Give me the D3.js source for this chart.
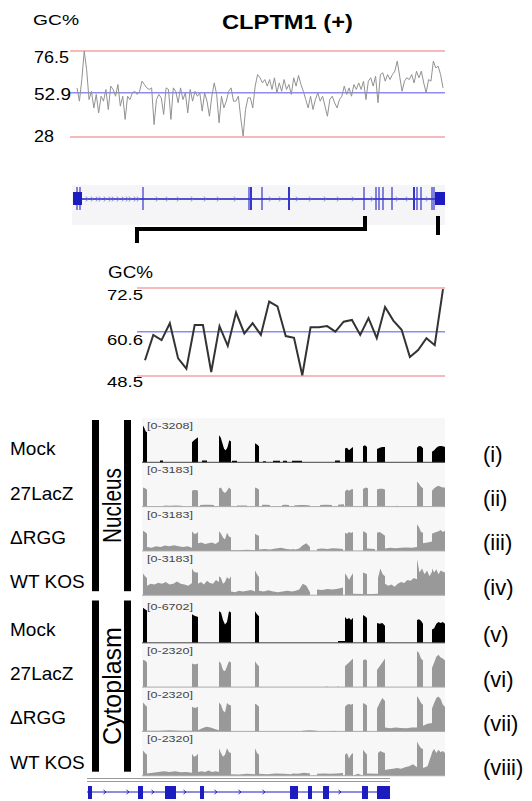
<!DOCTYPE html>
<html lang="en">
<head>
<meta charset="utf-8">
<title>CLPTM1 (+)</title>
<script src="https://cdn.jsdelivr.net/npm/d3@7"></script>
<style>
  body { margin: 0; background: #fff; }
  text { font-family: "Liberation Sans", Arial, Helvetica, sans-serif; fill: #000; }
</style>
</head>
<body>
<script>
// ---- GC content, whole gene ----
var gcTop = [55.7,48.2,60.4,76.4,66,49.1,53.8,44.4,52,41.6,51,48.2,54.8,43.5,56.7,54.8,51,57.6,45.4,51,
  37.9,51,49.1,52.9,53.8,52,53.8,59.5,57.6,55.7,54.8,55.7,35,49.1,52,50.1,40.7,55.7,54.8,37.9,
  55.7,53.8,47.3,55.7,49.1,52.9,41.6,54.8,48.2,53.8,51,52.9,42.6,52.9,48.2,39.7,51,58.5,52,36,
  51,44.4,48.2,53.8,55.7,48.2,48.2,51,38.8,28.5,43.5,50.1,50.1,44.4,56.7,63.2,61.4,58.5,60.4,
  56.7,60.4,54.8,61.4,52.9,58.5,53.8,60.4,54.8,57.6,52,61.4,56.7,62.7,57.6,53.8,49.1,44.4,51,
  43.5,49.1,52.9,48.2,51,45.4,39.7,49.1,51,47.3,44.4,49.1,51,56.7,52,55.7,51,57.6,54.8,58.5,
  54.8,59.5,49.1,59.5,61.4,56.7,62.3,47.3,63.2,64.2,59.5,63.2,60.4,63.2,65.1,70.8,62.3,53.8,
  59.5,61.4,60.4,63.2,58.5,65.1,61.4,65.1,58.5,52.9,60.4,59.5,70.8,67,67.9,63.2,55.7];
var gcTopTicks = [76.5, 52.9, 28];

// ---- GC content, zoomed region ----
var gcZoom = [52.8,59.7,58.3,62.9,53.3,50.5,62.4,62.4,49.6,62.1,56.7,65.8,60.1,62.9,59.7,68.8,67.5,
  59.4,58.9,48.7,61.8,61.8,62.1,60.6,63.3,63.8,59.7,64.3,58.8,67.3,63.6,61.1,53.7,55.6,58.8,56.9,72.2];
var gcZoomTicks = [72.5, 60.6, 48.5];

// ---- gene model, top (positions in px units along the gene) ----
var topExonLines = [4,7,70,176,178,189,216,291,303,306,310,319,341,344,348,359,361];
var topBlocks = [[0,9],[362,372]];
var topArrows = [14,19,24,27,32,37,40,45,50,54,57,62,65,84,94,105,119,132,145,162,197,207,224,237,252,265,280,299,324,334,354];

// ---- coverage tracks (segments: start, end, heights as fraction of range) ----
var exons = [[1,5],[51,56],[78,89],[113,117],[203,211],[221,225],[236,242],[275,281],[290,303]];
var geneArrows = [18,41,66,98,129,153,177,253];

var sampleNames = ["Mock","27LacZ","\u0394RGG","WT KOS"];
var nucRanges = ["[0-3208]","[0-3183]","[0-3183]","[0-3183]"];
var cytRanges = ["[0-6702]","[0-2320]","[0-2320]","[0-2320]"];
var nucRoman = ["(i)","(ii)","(iii)","(iv)"];
var cytRoman = ["(v)","(vi)","(vii)","(viii)"];

var nucMock = [[1,5,[0.97,0.9,0.82,0.79]],[18,21,[0.05,0.05]],[50,56,[0.53,0.58,0.62,0.66]],[60,65,[0.05,0.05]],
  [77,89,[0.71,0.65,0.5,0.35,0.32,0.4,0.58,0.55]],[90,95,[0.04,0.04]],[113,117,[0.5,0.47,0.42]],[121,124,[0.03,0.03]],
  [131,138,[0.04,0.04,0.04]],[141,145,[0.04,0.04]],[150,160,[0.04,0.04]],[193,198,[0.05,0.05]],
  [203,211,[0.36,0.38,0.32,0.36,0.4]],[221,225,[0.42,0.45,0.4]],[235,243,[0.35,0.38,0.4,0.4]],
  [275,281,[0.38,0.43,0.42,0.37]],[290,303,[0.28,0.32,0.38,0.42,0.43,0.42,0.4]]];
var nuc27LacZ = [[1,5,[0.5,0.48,0.45]],[22,40,[0.03,0.02,0.03,0.02]],[50,56,[0.42,0.44,0.44,0.42]],[58,72,[0.04,0.05,0.05,0.04]],
  [77,89,[0.48,0.5,0.4,0.36,0.42,0.5,0.45]],[95,105,[0.03,0.03]],[113,117,[0.5,0.48,0.45]],[120,128,[0.05,0.05,0.04]],
  [140,147,[0.04,0.05,0.04]],[152,168,[0.03,0.04,0.04,0.03]],[178,190,[0.04,0.05,0.04]],[196,202,[0.05,0.06]],
  [203,211,[0.4,0.45,0.42,0.45,0.46]],[221,226,[0.46,0.5,0.48]],[235,243,[0.45,0.47,0.47,0.45]],[254,256,[0.03]],
  [275,281,[0.66,0.6,0.52,0.48]],[290,303,[0.42,0.48,0.52,0.55,0.52,0.5,0.5]]];
var nucDRGG = [[1,5,[0.53,0.5,0.45]],[5,50,[0.1,0.08,0.12,0.1,0.14,0.12,0.15,0.12,0.1,0.12,0.08]],[50,56,[0.52,0.45,0.45,0.5]],
  [56,77,[0.2,0.22,0.18,0.2,0.22,0.18,0.25]],[77,89,[0.52,0.45,0.35,0.3,0.48,0.38,0.35]],[89,113,[0.02,0.02,0.03,0.02]],
  [113,117,[0.45,0.42,0.4]],[117,150,[0.04,0.05,0.04,0.06,0.08,0.05,0.04]],[150,168,[0.05,0.04,0.06,0.15,0.2,0.1]],
  [175,201,[0.05,0.06,0.05,0.07,0.06,0.05]],[203,211,[0.48,0.45,0.5,0.47,0.5]],[221,225,[0.52,0.5,0.45]],[225,233,[0.06,0.05]],
  [235,243,[0.48,0.5,0.45,0.4]],[243,275,[0.06,0.08,0.07,0.08,0.09,0.08,0.1]],[275,281,[0.7,0.62,0.5,0.48]],
  [281,290,[0.2,0.22,0.25]],[290,303,[0.45,0.48,0.5,0.52,0.55,0.5,0.53]]];
var nucWTKOS = [[1,5,[0.57,0.5,0.45]],[5,50,[0.25,0.3,0.28,0.33,0.3,0.35,0.28,0.3,0.36,0.3,0.28,0.25,0.32]],[50,56,[0.7,0.62,0.6,0.6]],
  [56,77,[0.3,0.35,0.28,0.38,0.32,0.3,0.4,0.35]],[77,89,[0.5,0.45,0.3,0.35,0.48,0.42,0.5]],[89,113,[0.1,0.08,0.12,0.1,0.12,0.14,0.1]],
  [113,117,[0.65,0.55,0.48]],[117,150,[0.12,0.1,0.13,0.1,0.08,0.1,0.12,0.1]],[150,168,[0.1,0.12,0.15,0.3,0.25,0.08]],
  [175,201,[0.15,0.14,0.16,0.15,0.17,0.2]],[203,211,[0.58,0.5,0.4,0.5,0.58]],[211,221,[0.04,0.03]],[221,225,[0.6,0.58,0.55]],
  [225,236,[0.03,0.03,0.04]],[236,243,[0.45,0.7,0.55,0.5]],[243,275,[0.3,0.25,0.28,0.22,0.3,0.35,0.32,0.4,0.38,0.45,0.42]],
  [275,290,[0.95,0.6,0.7,0.55,0.65,0.5,0.62]],[290,303,[0.7,0.6,0.68,0.55,0.65,0.62,0.6]]];

var cytMock = [[1,5,[0.92,0.88,0.85]],[50,56,[0.75,0.72,0.7,0.68]],[77,89,[0.83,0.8,0.6,0.48,0.55,0.83,0.8]],
  [113,117,[0.83,0.75,0.7]],[196,203,[0.05,0.05]],[203,211,[0.68,0.62,0.65,0.6,0.66]],[221,225,[0.73,0.7,0.65]],
  [235,243,[0.52,0.5,0.52,0.45]],[275,281,[0.6,0.62,0.58,0.5]],[290,303,[0.35,0.38,0.5,0.55,0.52,0.55,0.5]]];
var cyt27LacZ = [[1,5,[0.72,0.7,0.65]],[50,56,[0.62,0.6,0.6,0.62]],[77,89,[0.68,0.62,0.45,0.42,0.55,0.68,0.65]],
  [113,117,[0.68,0.6,0.55]],[184,186,[0.02]],[195,197,[0.02]],[203,211,[0.55,0.6,0.65,0.7,0.75]],[221,225,[0.7,0.73,0.7]],
  [235,243,[0.45,0.55,0.65,0.75]],[275,281,[0.95,0.9,0.75,0.7]],[290,303,[0.5,0.65,0.8,0.85,0.78,0.75,0.7]]];
var cytDRGG = [[1,5,[0.76,0.7,0.65]],[5,50,[0.02,0.02,0.03,0.02,0.02]],[50,56,[0.65,0.62,0.62,0.65]],
  [56,77,[0.03,0.08,0.12,0.1,0.06,0.03]],[77,89,[0.76,0.7,0.55,0.5,0.75,0.7,0.68]],[113,117,[0.73,0.7,0.65]],
  [160,175,[0.02,0.03,0.02]],[190,195,[0.02]],[203,211,[0.65,0.7,0.72,0.7,0.73]],[221,225,[0.75,0.72,0.68]],
  [235,243,[0.6,0.75,0.88,0.8]],[243,275,[0.1,0.08,0.1,0.09,0.08,0.1,0.1]],[275,281,[0.93,0.85,0.75,0.7]],
  [281,290,[0.15,0.2,0.22]],[290,303,[0.6,0.75,0.88,0.92,0.85,0.7,0.65]]];
var cytWTKOS = [[1,5,[0.66,0.6,0.55]],[5,50,[0.06,0.08,0.1,0.12,0.1,0.12,0.09,0.1,0.08]],[50,56,[0.58,0.5,0.52,0.58]],
  [56,77,[0.1,0.12,0.1,0.14,0.1,0.12,0.1]],[77,89,[0.72,0.6,0.5,0.55,0.72,0.62,0.6]],[89,113,[0.04,0.03,0.05,0.04]],
  [113,117,[0.72,0.6,0.55]],[117,150,[0.05,0.04,0.06,0.05,0.04]],[150,168,[0.06,0.05,0.08,0.06]],
  [175,201,[0.05,0.06,0.05,0.06,0.07]],[203,211,[0.55,0.6,0.45,0.55,0.6]],[211,221,[0.05]],[221,225,[0.68,0.62,0.55]],
  [225,236,[0.06,0.05]],[236,243,[0.6,0.65,0.62,0.6]],[243,275,[0.15,0.17,0.18,0.2,0.18,0.22,0.25,0.3,0.22]],
  [275,281,[0.9,0.8,0.72,0.7]],[281,290,[0.2,0.25,0.6]],[290,303,[0.62,0.7,0.6,0.68,0.62,0.65,0.6]]];

var nucTracks = [nucMock, nuc27LacZ, nucDRGG, nucWTKOS];
var cytTracks = [cytMock, cyt27LacZ, cytDRGG, cytWTKOS];

var W = 532, H = 801;
var svg = d3.select("body").append("svg").attr("width", W).attr("height", H);

var red = "#f4a3a3", blue = "#8c8cf2", geneBlue = "#1c1cc0";

/* ---------------- TOP GC PLOT ---------------- */
var xGC = d3.scaleLinear().domain([0, gcTop.length - 1]).range([77, 443]);
var yGC = d3.scaleLinear().domain([28, 76.5]).range([137, 51]);

svg.append("text").attr("x", 33).attr("y", 25).attr("font-size", 14)
   .attr("textLength", 46).attr("lengthAdjust", "spacingAndGlyphs").text("GC%");
svg.append("text").attr("x", 222).attr("y", 29).attr("font-size", 20).attr("font-weight", "bold")
   .attr("textLength", 131).attr("lengthAdjust", "spacingAndGlyphs").text("CLPTM1 (+)");

svg.selectAll(".gcTopRule").data(gcTopTicks).enter().append("line")
   .attr("x1", 70).attr("x2", 445)
   .attr("y1", function(d) { return yGC(d); }).attr("y2", function(d) { return yGC(d); })
   .attr("stroke", function(d, i) { return i == 1 ? blue : red; }).attr("stroke-width", 1.5);

var topTickLen = [35, 37, 20], topTickBase = [63, 100, 142];
svg.selectAll(".gcTopLab").data(gcTopTicks).enter().append("text")
   .attr("x", 34).attr("y", function(d, i) { return topTickBase[i]; })
   .attr("font-size", 17).attr("textLength", function(d, i) { return topTickLen[i]; })
   .attr("lengthAdjust", "spacingAndGlyphs").text(function(d) { return d; });

svg.append("path").datum(gcTop)
   .attr("d", d3.line().x(function(d, i) { return xGC(i); }).y(function(d) { return yGC(d); }))
   .attr("fill", "none").attr("stroke", "#929292").attr("stroke-width", 1);

/* ---------------- TOP GENE MODEL ---------------- */
var xTop = d3.scaleLinear().domain([0, 372]).range([73, 445]);
svg.append("rect").attr("x", 72).attr("y", 185).attr("width", 373).attr("height", 40).attr("fill", "#f5f5f7");
svg.append("line").attr("x1", xTop(0)).attr("x2", xTop(370)).attr("y1", 199).attr("y2", 199)
   .attr("stroke", geneBlue).attr("stroke-width", 1.5);
svg.selectAll(".topArrow").data(topArrows).enter().append("path")
   .attr("d", function(d) { var x = xTop(d); return "M" + (x - 1) + ",196.5L" + (x + 1) + ",199L" + (x - 1) + ",201.5"; })
   .attr("fill", "none").attr("stroke", "#6a6ad8").attr("stroke-width", 0.8);
svg.selectAll(".topExon").data(topExonLines).enter().append("line")
   .attr("x1", function(d) { return xTop(d); }).attr("x2", function(d) { return xTop(d); })
   .attr("y1", 187).attr("y2", 210)
   .attr("stroke", "#3535cc").attr("stroke-width", function(d, i) { return (i == 4 || i == 6 || i == 12) ? 2 : 1.2; });
svg.selectAll(".topBlock").data(topBlocks).enter().append("rect")
   .attr("x", function(d) { return xTop(d[0]); }).attr("width", function(d) { return xTop(d[1]) - xTop(d[0]); })
   .attr("y", 192).attr("height", 13).attr("fill", geneBlue);

// bracket marking the zoomed region
svg.append("path").attr("d", "M137,243V229H365V216")
   .attr("fill", "none").attr("stroke", "#000").attr("stroke-width", 4);
svg.append("line").attr("x1", 438).attr("x2", 438).attr("y1", 216).attr("y2", 235)
   .attr("stroke", "#000").attr("stroke-width", 4);

/* ---------------- ZOOMED GC PLOT ---------------- */
var xGC2 = d3.scaleLinear().domain([0, gcZoom.length - 1]).range([145, 443]);
var yGC2 = d3.scaleLinear().domain([48.5, 72.5]).range([376, 288]);

svg.append("text").attr("x", 108).attr("y", 278).attr("font-size", 16)
   .attr("textLength", 45).attr("lengthAdjust", "spacingAndGlyphs").text("GC%");
svg.selectAll(".gcZoomRule").data(gcZoomTicks).enter().append("line")
   .attr("x1", 137).attr("x2", 445)
   .attr("y1", function(d) { return yGC2(d); }).attr("y2", function(d) { return yGC2(d); })
   .attr("stroke", function(d, i) { return i == 1 ? blue : red; }).attr("stroke-width", 1.5);
var zoomTickBase = [300, 345, 387];
svg.selectAll(".gcZoomLab").data(gcZoomTicks).enter().append("text")
   .attr("x", 107).attr("y", function(d, i) { return zoomTickBase[i]; })
   .attr("font-size", 15).attr("textLength", 36).attr("lengthAdjust", "spacingAndGlyphs")
   .text(function(d) { return d; });
svg.append("path").datum(gcZoom)
   .attr("d", d3.line().x(function(d, i) { return xGC2(i); }).y(function(d) { return yGC2(d); }))
   .attr("fill", "none").attr("stroke", "#333").attr("stroke-width", 2);

/* ---------------- COVERAGE TRACKS ---------------- */
var xTrack = d3.scaleLinear().domain([0, 303]).range([142, 445]);
var trackH = 44.3, plotH = 38;

function profilePoints(segs) {
  var pts = [];
  segs.forEach(function(s) {
    var x0 = s[0], x1 = s[1], v = s[2];
    pts.push([x0, 0]);
    v.forEach(function(d, i) {
      var x = v.length == 1 ? (x0 + x1) / 2 : x0 + (x1 - x0) * i / (v.length - 1);
      pts.push([x, d]);
    });
    pts.push([x1, 0]);
  });
  return pts;
}

svg.append("rect").attr("x", 142).attr("y", 418).attr("width", 303).attr("height", 359).attr("fill", "#f7f7f7");

function drawGroup(tracks, ranges, roman, top, title, titleLen) {
  var g = svg.append("g");
  tracks.forEach(function(segs, i) {
    var base = top + (i + 1) * trackH;
    var y = d3.scaleLinear().domain([0, 1]).range([base, base - plotH]);
    var col = i == 0 ? "#000" : "#999";
    g.append("path").datum(profilePoints(segs))
     .attr("d", d3.area().x(function(d) { return xTrack(d[0]); }).y0(base).y1(function(d) { return y(d[1]); }))
     .attr("fill", col);
    g.append("line").attr("x1", 142).attr("x2", 445).attr("y1", base).attr("y2", base)
     .attr("stroke", i == 0 ? "#444" : "#aaa").attr("stroke-width", 1);
    g.append("text").attr("x", 147).attr("y", top + i * trackH + 11).attr("font-size", 9)
     .attr("textLength", 46).attr("lengthAdjust", "spacingAndGlyphs").style("fill", "#444")
     .text(ranges[i]);
    g.append("text").attr("x", 10).attr("y", base - 7).attr("font-size", 19).text(sampleNames[i]);
    g.append("text").attr("x", 483).attr("y", base - 0.5).attr("font-size", 22).text(roman[i]);
  });
  // compartment bars and label
  var y0 = top + 2, y1 = top + 4 * trackH - 4;
  [92, 124].forEach(function(x) {
    g.append("rect").attr("x", x).attr("y", y0).attr("width", 7).attr("height", y1 - y0).attr("fill", "#000");
  });
  g.append("text").attr("transform", "translate(121," + ((y0 + y1) / 2) + ") rotate(-90)")
   .attr("text-anchor", "middle").attr("font-size", 26)
   .attr("textLength", titleLen).attr("lengthAdjust", "spacingAndGlyphs").text(title);
}

drawGroup(nucTracks, nucRanges, nucRoman, 418, "Nucleus", 75);
drawGroup(cytTracks, cytRanges, cytRoman, 598.5, "Cytoplasm", 118);

/* ---------------- BOTTOM GENE MODEL ---------------- */
var xGene = d3.scaleLinear().domain([0, 303]).range([87, 390]);
svg.append("line").attr("x1", 87).attr("x2", 390).attr("y1", 778.5).attr("y2", 778.5).attr("stroke", "#999").attr("stroke-width", 1.2);
svg.append("line").attr("x1", 87).attr("x2", 390).attr("y1", 781.5).attr("y2", 781.5).attr("stroke", "#999").attr("stroke-width", 1.2);
svg.append("line").attr("x1", xGene(0)).attr("x2", xGene(303)).attr("y1", 792).attr("y2", 792)
   .attr("stroke", geneBlue).attr("stroke-width", 1);
svg.selectAll(".geneArrow").data(geneArrows).enter().append("path")
   .attr("d", function(d) { var x = xGene(d); return "M" + (x - 1.5) + ",790L" + (x + 1) + ",792L" + (x - 1.5) + ",794"; })
   .attr("fill", "none").attr("stroke", geneBlue).attr("stroke-width", 1);
svg.selectAll(".geneExon").data(exons).enter().append("rect")
   .attr("x", function(d) { return xGene(d[0]); }).attr("width", function(d) { return xGene(d[1]) - xGene(d[0]); })
   .attr("y", 786).attr("height", 13).attr("fill", geneBlue);
</script>
</body>
</html>
